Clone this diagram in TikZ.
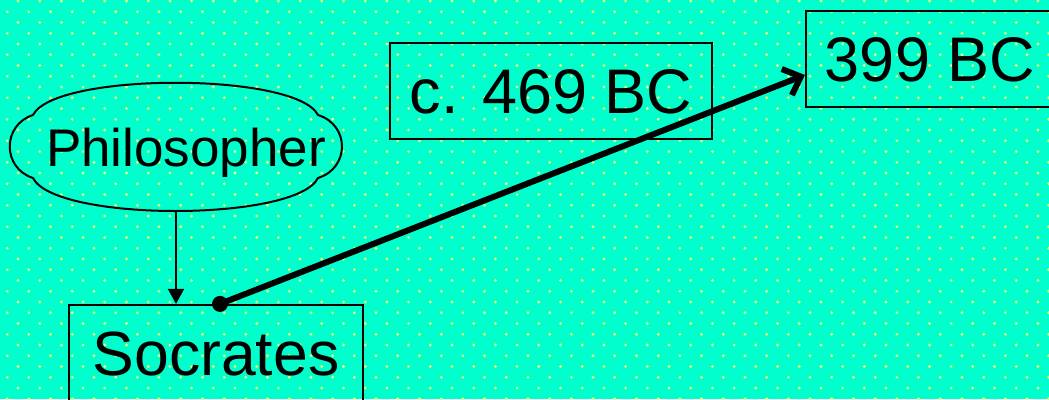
\documentclass[tikz,border=0pt]{standalone}
\usepackage{fontspec}
\setmainfont{Liberation Sans}
\usetikzlibrary{arrows.meta, calc}

\definecolor{slidebg}{RGB}{0,255,204}
\definecolor{slidedot}{RGB}{225,255,110}

\begin{document}
\begin{tikzpicture}[
  x=1pt, y=-1pt,
  box/.style={draw, line width=2.2pt, inner sep=0pt, text depth=0pt},
  term/.style={inner sep=0pt, text depth=0pt},
  cloudline/.style={draw, line width=2pt},
  isa/.style={-{Triangle[length=15pt, width=16pt]}, line width=1.7pt},
  span/.style={-{Straight Barb[length=15pt, width=28pt]}, line width=6pt, line cap=round}
]
\useasboundingbox (0,0) rectangle (1049,399);
% Background: aquamarine slide with staggered dot grid
\fill[slidebg] (0,0) rectangle (1049,399);
\foreach \r in {0,...,37}{
  \foreach \k in {0,...,48}{
    \fill[slidedot] ({18-10.85*mod(\r,2)+21.7*\k},{1+10.75*\r}) circle (1.6pt);
  }
}

% Concept nodes
\node[term, text height=38pt, minimum width=332pt, minimum height=128pt, font=\fontsize{53}{60}\selectfont] (phil) at (176,147) {\hspace*{20pt}Philosopher};
\node[box, text height=44.7pt, minimum width=294pt, minimum height=97pt, font=\fontsize{62.5}{70}\selectfont] (soc) at (216,353.5) {Socrates};
\node[box, text height=45pt, minimum width=322pt, minimum height=96pt, font=\fontsize{63}{72}\selectfont] (born) at (551,91) {c. 469 BC};
\node[box, text height=45pt, minimum width=248pt, minimum height=96pt, font=\fontsize{63}{72}\selectfont] (died) at (930,59) {399 BC};

% Cloud outline round the philosopher node
\begin{scope}[shift={(phil.center)}]
\draw[cloudline] (-143,-32) .. controls (-121,-75) and (120,-75) .. (142,-32)
  .. controls (174,-22) and (174,21) .. (142,31)
  .. controls (120,75) and (-121,75) .. (-143,31)
  .. controls (-174,21) and (-174,-22) .. (-143,-32);
\end{scope}

% Connectors
\draw[isa] (phil.south) -- (phil.south |- soc.north);
\coordinate (lifestart) at ([xshift=4pt]soc.north);
\coordinate (lifeend) at ([yshift=-16pt]died.west);
\draw[span] (lifestart) -- (lifeend);
\fill (lifestart) circle (8pt);

\end{tikzpicture}
\end{document}
